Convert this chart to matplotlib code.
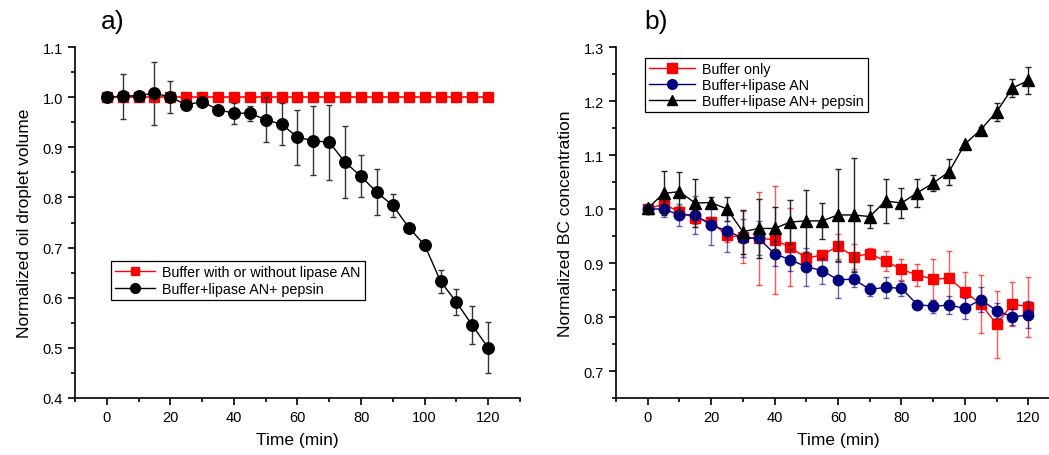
import numpy as np
import matplotlib.pyplot as plt
from matplotlib.ticker import MultipleLocator
from matplotlib.lines import Line2D

plt.rcParams['font.family'] = ['Liberation Sans', 'DejaVu Sans']

# time points (min)
t = np.arange(0, 121, 5)

# panel a
vol_buffer = [1.0] * len(t)
vol_pepsin = [1.000, 1.002, 1.003, 1.008, 1.000, 0.985, 0.991, 0.975, 0.968, 0.968,
              0.955, 0.946, 0.920, 0.913, 0.910, 0.870, 0.842, 0.810, 0.784, 0.740,
              0.705, 0.633, 0.591, 0.545, 0.500]
vol_pepsin_err = [0.0, 0.045, 0.006, 0.063, 0.032, 0.010, 0.0, 0.0, 0.021, 0.015,
                  0.045, 0.042, 0.055, 0.069, 0.075, 0.072, 0.042, 0.046, 0.023, 0.0,
                  0.0, 0.023, 0.026, 0.038, 0.051]

# panel b
bc_buffer = [1.000, 1.009, 0.995, 0.983, 0.976, 0.951, 0.948, 0.946, 0.943, 0.929,
             0.909, 0.915, 0.931, 0.912, 0.917, 0.904, 0.888, 0.878, 0.870, 0.872,
             0.847, 0.824, 0.787, 0.824, 0.819]
bc_buffer_err = [0.0, 0.005, 0.010, 0.010, 0.010, 0.012, 0.048, 0.086, 0.100, 0.072,
                 0.012, 0.006, 0.023, 0.024, 0.010, 0.019, 0.020, 0.020, 0.038, 0.050,
                 0.036, 0.054, 0.062, 0.041, 0.056]
bc_lipase = [1.000, 1.000, 0.989, 0.989, 0.970, 0.960, 0.946, 0.946, 0.917, 0.906,
             0.893, 0.886, 0.869, 0.870, 0.851, 0.855, 0.853, 0.823, 0.820, 0.822,
             0.816, 0.832, 0.812, 0.800, 0.804]
bc_lipase_err = [0.0, 0.015, 0.020, 0.036, 0.036, 0.040, 0.035, 0.032, 0.023, 0.020,
                 0.035, 0.024, 0.033, 0.015, 0.012, 0.019, 0.014, 0.0, 0.012, 0.016,
                 0.020, 0.023, 0.014, 0.015, 0.025]
bc_pepsin = [1.001, 1.029, 1.032, 1.011, 1.012, 1.000, 0.958, 0.964, 0.964, 0.976,
             0.978, 0.978, 0.989, 0.989, 0.986, 1.015, 1.011, 1.030, 1.048, 1.069,
             1.120, 1.147, 1.180, 1.224, 1.238]
bc_pepsin_err = [0.0, 0.041, 0.037, 0.045, 0.010, 0.023, 0.041, 0.054, 0.040, 0.040,
                 0.057, 0.034, 0.086, 0.106, 0.021, 0.040, 0.027, 0.026, 0.015, 0.024,
                 0.0, 0.005, 0.017, 0.017, 0.025]

labels_a = ['Buffer with or without lipase AN', 'Buffer+lipase AN+ pepsin']
labels_b = ['Buffer only', 'Buffer+lipase AN', 'Buffer+lipase AN+ pepsin']

fig = plt.figure(figsize=(10.49, 4.56), dpi=100)
ax1 = fig.add_axes([0.0715, 0.125, 0.4242, 0.7697])
ax2 = fig.add_axes([0.5872, 0.125, 0.4233, 0.7697])

ax1.errorbar(t, vol_buffer, color='#ff0000', marker='s', ms=7, lw=1.2, zorder=3)
ax1.errorbar(t, vol_pepsin, yerr=vol_pepsin_err, color='black', marker='o', ms=8.3,
             lw=1, capsize=2.5, elinewidth=1, ecolor='#333333', zorder=4)

ax2.errorbar(t, bc_buffer, yerr=bc_buffer_err, color='#ff0000', marker='s', ms=7,
             lw=1, capsize=2.5, ecolor=(1, 0, 0, 0.65), zorder=3)
ax2.errorbar(t, bc_lipase, yerr=bc_lipase_err, color='#000080', marker='o', ms=7.5,
             lw=1, capsize=2.5, ecolor=(0, 0, 0.5, 0.6), zorder=4)
ax2.errorbar(t, bc_pepsin, yerr=bc_pepsin_err, color='black', marker='^', ms=8,
             lw=1, capsize=2.5, ecolor='#222222', zorder=5)

for ax in (ax1, ax2):
    ax.set_xlim(-10, 130)
    ax.xaxis.set_major_locator(MultipleLocator(20))
    ax.xaxis.set_minor_locator(MultipleLocator(10))
    ax.yaxis.set_major_locator(MultipleLocator(0.1))
    ax.yaxis.set_minor_locator(MultipleLocator(0.05))
    ax.spines['top'].set_visible(False)
    ax.spines['right'].set_visible(False)
    ax.spines['left'].set_linewidth(1.2)
    ax.spines['bottom'].set_linewidth(1.2)
    ax.tick_params(which='major', direction='out', length=5, width=1.2, labelsize=10.5)
    ax.tick_params(which='minor', direction='out', length=3, width=1.2)
    ax.set_xlabel('Time (min)', fontsize=12.5, labelpad=6)
    ax.yaxis.set_major_formatter(plt.FuncFormatter(lambda v, p: f'{v:.1f}'))

ax1.set_ylim(0.4, 1.1)
ax2.set_ylim(0.65, 1.3)
ax1.set_ylabel('Normalized oil droplet volume', fontsize=12.5, labelpad=8)
ax2.set_ylabel('Normalized BC concentration', fontsize=12.5, labelpad=8)

fig.text(0.096, 0.952, 'a)', fontsize=19, va='center')
fig.text(0.614, 0.952, 'b)', fontsize=19, va='center')

h_a = [Line2D([], [], color='#ff0000', marker='s', ms=6, lw=1),
       Line2D([], [], color='black', marker='o', ms=7, lw=1)]
h_b = [Line2D([], [], color='#ff0000', marker='s', ms=6.5, lw=1),
       Line2D([], [], color='#000080', marker='o', ms=7, lw=1),
       Line2D([], [], color='black', marker='^', ms=7.5, lw=1)]

leg1 = ax1.legend(h_a, labels_a, loc='upper left', bbox_to_anchor=(0.08, 0.39),
                  fontsize=10.3, fancybox=False, edgecolor='black', framealpha=1,
                  borderpad=0.3, labelspacing=0.15, handlelength=2.8,
                  handletextpad=0.5, borderaxespad=0)
leg1.get_frame().set_linewidth(0.9)
leg2 = ax2.legend(h_b, labels_b, loc='upper left', bbox_to_anchor=(0.065, 0.97),
                  fontsize=10.3, fancybox=False, edgecolor='black', framealpha=1,
                  borderpad=0.3, labelspacing=0.15, handlelength=3.2,
                  handletextpad=0.5, borderaxespad=0)
leg2.get_frame().set_linewidth(0.9)

fig.savefig('out.png', dpi=100)
